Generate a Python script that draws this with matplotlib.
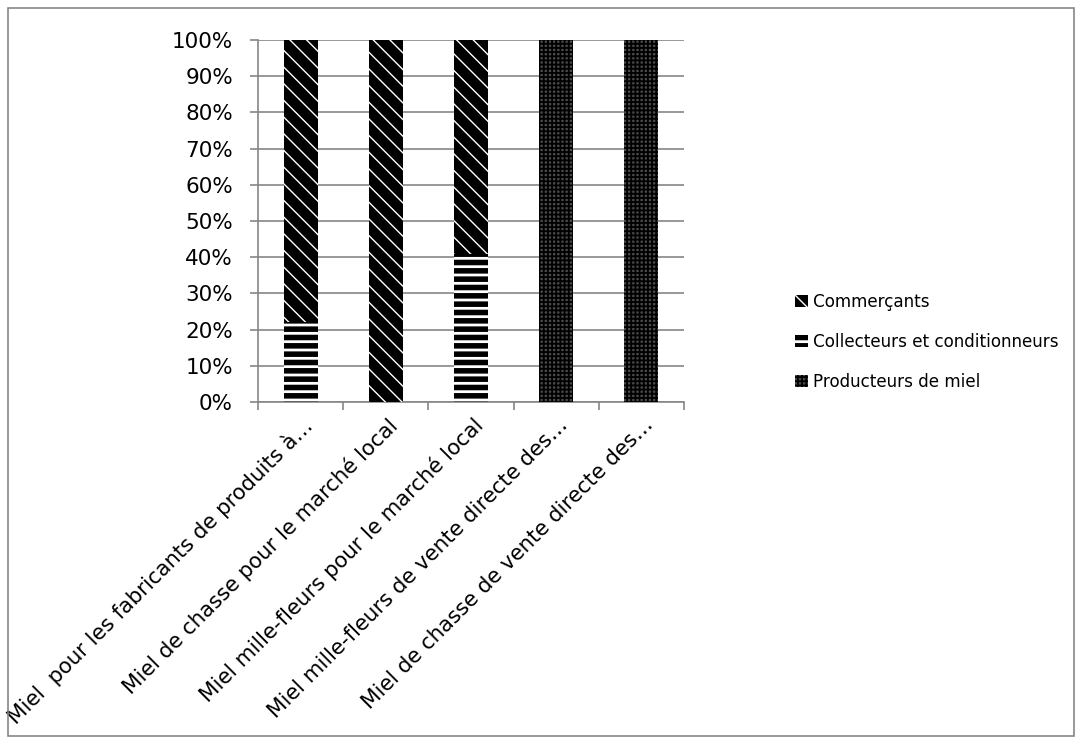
import numpy as np
import matplotlib
matplotlib.use("Agg")
import matplotlib.pyplot as plt
from matplotlib.patches import Rectangle
from matplotlib.ticker import PercentFormatter, FixedLocator, NullFormatter

categories = [
    "Miel  pour les fabricants de produits à…",
    "Miel de chasse pour le marché local",
    "Miel mille-fleurs pour le marché local",
    "Miel mille-fleurs de vente directe des…",
    "Miel de chasse de vente directe des…",
]
producteurs = [0, 0, 0, 100, 100]
collecteurs = [22, 0, 41, 0, 0]
commercants = [78, 100, 59, 0, 0]

series_names = ["Producteurs de miel", "Collecteurs et conditionneurs", "Commerçants"]

plt.rcParams['font.family'] = ['DejaVu Sans']

fig = plt.figure(figsize=(10.82, 7.44), dpi=100)
ax = fig.add_axes([258 / 1082, 1 - 402 / 744, 426 / 1082, 362 / 744])

x = np.arange(len(categories))
w = 0.4
grid_col = "#868686"
hatch_widths = [1.3, 4.0, 1.0]


def hatch_lw(artists, lw):
    for a in artists:
        if hasattr(a, "set_hatch_linewidth"):
            a.set_hatch_linewidth(lw)


plt.rcParams['hatch.linewidth'] = hatch_widths[0]
b1 = ax.bar(x, producteurs, w, color="#4a4a4a", edgecolor="black", linewidth=0,
            hatch="++++", label=series_names[0], zorder=3)
hatch_lw(b1, hatch_widths[0])

plt.rcParams['hatch.linewidth'] = hatch_widths[1]
bottom2 = np.array(producteurs)
b2 = ax.bar(x, collecteurs, w, bottom=bottom2, color="white", edgecolor="black",
            linewidth=0, hatch="--", label=series_names[1], zorder=3)
hatch_lw(b2, hatch_widths[1])

plt.rcParams['hatch.linewidth'] = hatch_widths[2]
bottom3 = bottom2 + np.array(collecteurs)
b3 = ax.bar(x, commercants, w, bottom=bottom3, color="black", edgecolor="white",
            linewidth=0, hatch="\\\\", label=series_names[2], zorder=3)
hatch_lw(b3, hatch_widths[2])

ax.set_xlim(-0.5, len(categories) - 0.5)
ax.set_ylim(0, 100)
ax.set_yticks(np.arange(0, 101, 10))
ax.yaxis.set_major_formatter(PercentFormatter(decimals=0))
ax.grid(axis="y", color=grid_col, linewidth=1.2, zorder=0)

for s in ["top", "right"]:
    ax.spines[s].set_visible(False)
for s in ["left", "bottom"]:
    ax.spines[s].set_color(grid_col)
    ax.spines[s].set_linewidth(1.2)

ax.tick_params(axis="y", length=6, width=1.2, color=grid_col, labelsize=15.5, pad=12)

# category boundaries as ticks, labels at bar centres
ax.xaxis.set_major_locator(FixedLocator(np.arange(-0.5, len(categories), 1.0)))
ax.xaxis.set_major_formatter(NullFormatter())
ax.tick_params(axis="x", length=6, width=1.2, color=grid_col)
for i, lab in enumerate(categories):
    ax.annotate(lab, xy=(i, 0), xycoords=("data", "axes fraction"),
                xytext=(1, -9), textcoords="offset points",
                rotation=45, rotation_mode="anchor", ha="right", va="top",
                fontsize=15.3)

handles, labels = ax.get_legend_handles_labels()
leg = fig.legend(handles[::-1], labels[::-1], loc="upper left",
                 bbox_to_anchor=(780 / 1082, 1 - 278 / 744), frameon=False,
                 fontsize=12.1, handlelength=0.75, handleheight=0.75,
                 handletextpad=0.3, labelspacing=1.3)
for h, lw in zip(leg.legend_handles, hatch_widths[::-1]):
    hatch_lw([h], lw)

fig.patches.append(Rectangle((8 / 1082, 8 / 744), 1 - 16 / 1082, 1 - 16 / 744,
                             transform=fig.transFigure, fill=False,
                             edgecolor=grid_col, linewidth=1.2))

fig.savefig("out.png", dpi=100)
